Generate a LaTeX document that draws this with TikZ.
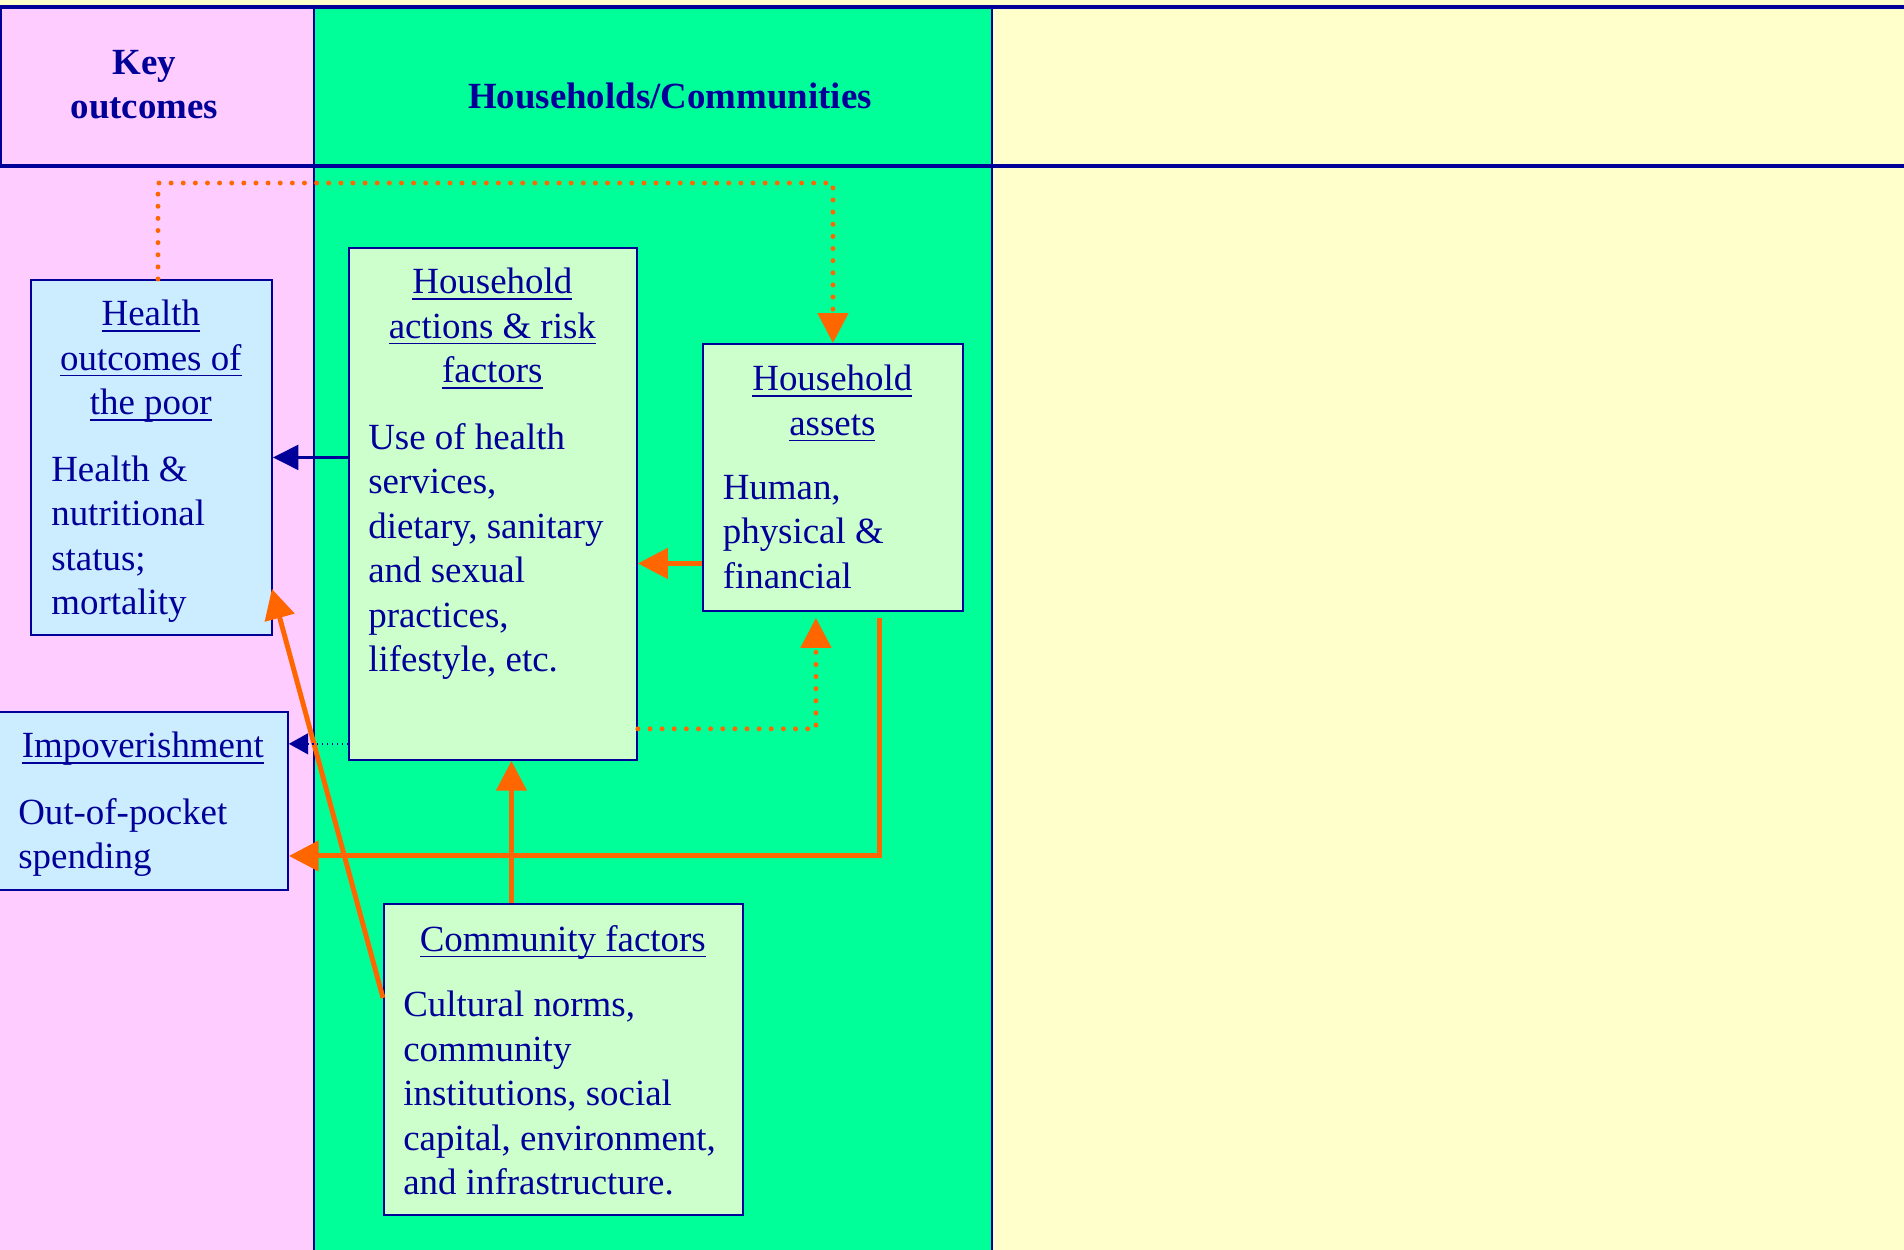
\documentclass[tikz,border=0pt]{standalone}
\usepackage{fontspec}
\setmainfont{Liberation Serif}
\usepackage{xcolor}
\usepackage{tikz}
\usetikzlibrary{arrows.meta,calc}

\definecolor{navy}{HTML}{000099}
\definecolor{hhorange}{HTML}{FF6600}
\definecolor{keypink}{HTML}{FFCCFF}
\definecolor{hhgreen}{HTML}{00FF99}
\definecolor{paleyellow}{HTML}{FFFFCC}
\definecolor{boxblue}{HTML}{CCECFF}
\definecolor{boxgreen}{HTML}{CCFFCC}

\setlength{\parindent}{0pt}
\newcommand{\diagfont}{\fontsize{21}{25.3}\selectfont}
\newsavebox{\ulnbox}
\newcommand{\uln}[1]{\leavevmode\sbox{\ulnbox}{#1}\rlap{\rule[-3.4pt]{\wd\ulnbox}{0.9pt}}\usebox{\ulnbox}}

\begin{document}
\begin{tikzpicture}[x=0.02cm, y=-0.02cm,
    outbox/.style={draw=navy, line width=1.1pt, fill=boxblue, rectangle, inner sep=0pt, anchor=north west},
    hhbox/.style={draw=navy, line width=1.1pt, fill=boxgreen, rectangle, inner sep=0pt, anchor=north west},
    boxtext/.style={inner sep=0pt, anchor=north west, align=left, text=navy, font=\diagfont,
        execute at begin node={\spaceskip=0pt\xspaceskip=0pt}},
    headtext/.style={text=navy, font=\diagfont\bfseries, align=center},
    orangearrow/.style={draw=hhorange, line width=2.8pt, -{Triangle[length=17pt,width=17pt]}},
    orangedots/.style={draw=hhorange, line width=2.8pt, line cap=round, dash pattern=on 0pt off 6.9pt, -{Triangle[length=17pt,width=17pt]}},
    navyarrow/.style={draw=navy, line width=2pt, -{Triangle[length=14.5pt,width=14pt]}},
    navydots/.style={draw=navy, line width=0.8pt, dotted, -{Triangle[length=11pt,width=12pt]}}]
        \useasboundingbox (0,0) rectangle (1904,1250);

        % Columns
        \fill[paleyellow] (0,0) rectangle (1904,1250);
        \fill[keypink] (0,7) rectangle (314,1250);
        \fill[hhgreen] (314,7) rectangle (992,1250);
        \draw[navy, line width=1.1pt] (314,7) -- (314,1250);
        \draw[navy, line width=1.1pt] (992,7) -- (992,1250);
        \draw[navy, line width=1.1pt] (1,7) -- (1,166);
        \draw[navy, line width=2.3pt] (0,7) -- (1904,7);
        \draw[navy, line width=2.3pt] (0,166) -- (1904,166);

        % Headings
        \node[headtext] (keyhead) at (144.5,84.5) {Key\\outcomes};
        \node[headtext] (hhhead) at (670,96) {Households/Communities};

        % Key outcomes
        \node[outbox, minimum width=4.82cm, minimum height=7.10cm] (hout) at (30,279) {};
        \node[boxtext, text width=3.98cm] (hout-text) at ($(hout.north west)+(21,21)$)
            {{\centering\uln{Health}\\\uln{outcomes of}\\\uln{the poor}\par}
             \vspace{12.5pt}Health \&\\nutritional\\status;\\mortality};

        \node[outbox, minimum width=5.78cm, minimum height=3.56cm] (himp) at (-2,711) {};
        \node[boxtext, text width=4.98cm] (himp-text) at ($(himp.north west)+(20,21)$)
            {{\centering\uln{Impoverishment}\par}
             \vspace{12.5pt}Out-of-pocket\\spending};

        % Households
        \node[hhbox, minimum width=5.76cm, minimum height=10.24cm] (hact) at (348,247) {};
        \node[boxtext, text width=4.96cm] (hact-text) at ($(hact.north west)+(20,21)$)
            {{\centering\uln{Household}\\\uln{actions \& risk}\\\uln{factors}\par}
             \vspace{12.5pt}Use of health\\services,\\dietary, sanitary\\and sexual\\practices,\\lifestyle, etc.};

        \node[hhbox, minimum width=5.20cm, minimum height=5.34cm] (hass) at (702,343) {};
        \node[boxtext, text width=4.38cm] (hass-text) at ($(hass.north west)+(20.5,22)$)
            {{\centering\uln{Household}\\\uln{assets}\par}
             \vspace{11pt}Human,\\physical \&\\financial};

        % Communities
        \node[hhbox, minimum width=7.18cm, minimum height=6.22cm] (hcom) at (383,903) {};
        \node[boxtext, text width=6.38cm] (hcom-text) at ($(hcom.north west)+(20,22)$)
            {{\centering\uln{Community factors}\par}
             \vspace{12pt}Cultural norms,\\community\\institutions, social\\capital, environment,\\and infrastructure.};

        % Links
        \coordinate (looptop) at (158,183);
        \draw[orangedots] (looptop |- hout.north) -- (looptop) -| (hass.north);
        \draw[navyarrow] (hact.west |- hout.east) -- (hout.east);
        \draw[orangearrow] ($(hass.west)+(0,86)$) coordinate (a1) -- (a1 -| hact.east);
        \draw[orangedots] ($(hact.south east)+(0,-32)$) -| ($(hass.south)+(-17,6)$);
        \draw[orangearrow] ($(hass.south)+(47,6)$) |- ($(himp.east)+(0,55)$);
        \draw[orangearrow] ($(hcom.north)+(-52,0)$) coordinate (c1) -- (c1 |- hact.south);
        \draw[orangearrow] ($(hcom.north west)+(0,95)$) -- ($(hout.south east)+(-1,-47)$);
        \draw[navydots] ($(hact.south west)+(0,-17)$) coordinate (d1) -- (d1 -| himp.east);
    \end{tikzpicture}
\end{document}
